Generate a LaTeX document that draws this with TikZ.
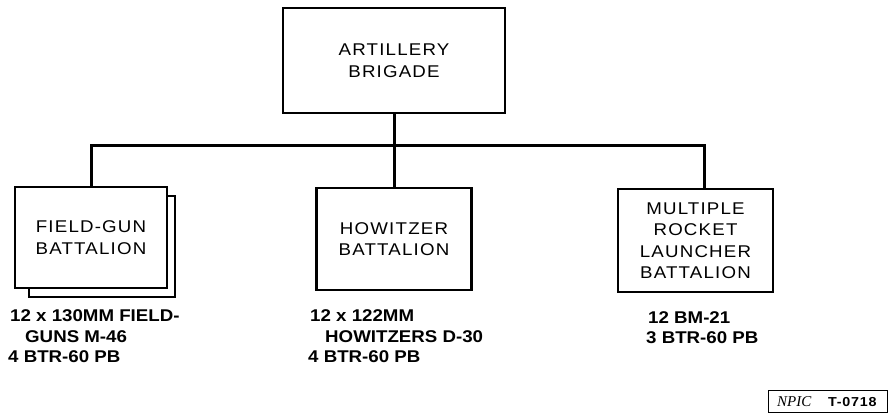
\documentclass[tikz,border=0pt]{standalone}
\usepackage{fontspec}
\setmainfont{Liberation Sans}
\newfontfamily\boxfont[FakeStretch=1.1,LetterSpace=7]{Liberation Sans}
\newfontfamily\notefont[FakeStretch=1.1,LetterSpace=0]{Liberation Sans}
\newfontfamily\stampfont[FakeStretch=1.1,LetterSpace=6]{Liberation Sans}
\newfontfamily\serifit{Liberation Serif}
\begin{document}
\begin{tikzpicture}[x=1pt,y=-1pt,
  unit/.style={draw,line width=2.2pt,fill=white,align=center,inner sep=0pt,
    font=\boxfont\fontsize{17}{21.5}\selectfont},
  conn/.style={line width=3pt},
  note/.style={anchor=base west,inner sep=0pt,
    font=\notefont\bfseries\fontsize{17}{21}\selectfont}]
\useasboundingbox (0,0) rectangle (891,417);
% top
\node[unit,minimum width=222pt,minimum height=105pt] (top) at (394,60.5) {ARTILLERY\\BRIGADE};
% field gun with shadow
\draw[line width=2.2pt] (29,196) rectangle (175,297);
\node[unit,minimum width=152pt,minimum height=101pt] (fg) at (91,237.5) {FIELD-GUN\\BATTALION};
\node[unit,minimum width=155pt,minimum height=102pt] (how) at (394,239) {HOWITZER\\BATTALION};
\node[unit,minimum width=155pt,minimum height=103pt] (mrl) at (695.5,240.5) {MULTIPLE\\ROCKET\\LAUNCHER\\BATTALION};
% connectors
\coordinate (j) at (394,145);
\coordinate (mrltop) at (704,189);
\draw[conn] (top.south) -- (j);
\draw[conn] (fg.north) |- (j) -| (mrltop);
\draw[conn] (j) -- (how.north);
% notes
\node[note] (fg1) at (10,321) {12 x 130MM FIELD-};
\node[note] (fg2) at (25,342) {GUNS M-46};
\node[note] (fg3) at (8,362) {4 BTR-60 PB};
\node[note] (h1) at (310,321) {12 x 122MM};
\node[note] (h2) at (325,342) {HOWITZERS D-30};
\node[note] (h3) at (308,362) {4 BTR-60 PB};
\node[note] (m1) at (648,323) {12 BM-21};
\node[note] (m2) at (646,343) {3 BTR-60 PB};
% stamp
\node[draw,line width=0.9pt,minimum width=119pt,minimum height=22pt,inner sep=0pt] (stamp) at (827.5,401) {};
\node[anchor=base west,inner sep=0pt,font=\serifit\itshape\fontsize{15}{15}\selectfont] (npic) at (777,406.5) {NPIC};
\node[anchor=base west,inner sep=0pt,font=\stampfont\bfseries\fontsize{13}{13}\selectfont] (tnum) at (828,406.5) {T-0718};
\end{tikzpicture}
\end{document}
